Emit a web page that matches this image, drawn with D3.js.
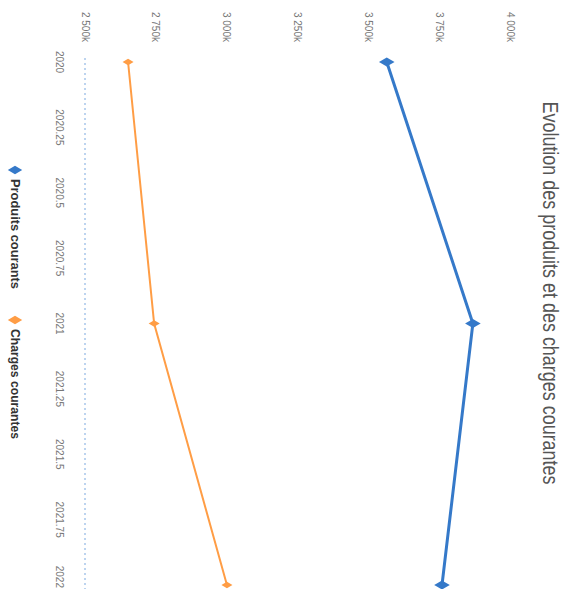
<!DOCTYPE html>
<html><head><meta charset="utf-8">
<script src="https://cdn.jsdelivr.net/npm/d3@7"></script>
<style>html,body{margin:0;padding:0;background:#fff;}svg{display:block;}</style>
</head><body>
<script>
const years = [2020, 2021, 2022];
const produits = [3565, 3869, 3760];
const charges = [2652, 2744, 3001];
const xTicks = [2020, 2020.25, 2020.5, 2020.75, 2021, 2021.25, 2021.5, 2021.75, 2022];
const yTicks = [2500, 2750, 3000, 3250, 3500, 3750, 4000];
const seriesNames = ["Produits courants", "Charges courantes"];
const colors = ["#3579c9", "#ff9d45"];
const title = "Evolution des produits et des charges courantes";

const W = 570, H = 589;
const svg = d3.select("body").append("svg").attr("width", W).attr("height", H);
// chart drawn in its own orientation (589 wide x 570 tall), then turned a quarter clockwise
const g = svg.append("g").attr("transform", `translate(${W},0) rotate(90)`);
const font = "Liberation Sans, Arial, sans-serif";

const x = d3.scaleLinear().domain([2020, 2022]).range([62, 585]);
const y = d3.scaleLinear().domain([2500, 4000]).range([485, 60]);

// x axis line (dashed)
g.append("line").attr("x1", 58).attr("x2", 589).attr("y1", y(2500)).attr("y2", y(2500))
  .attr("stroke", "#a8c6ea").attr("stroke-width", 1.5).attr("stroke-dasharray", "2,3");

// x tick labels
const last = xTicks[xTicks.length - 1];
g.selectAll(".xt").data(xTicks).enter().append("text")
  .attr("x", d => d === last ? 588 : x(d)).attr("y", 514)
  .attr("text-anchor", d => d === last ? "end" : "middle")
  .attr("font-family", font).attr("font-size", 10).attr("fill", "#777")
  .text(d => String(d));

// y tick labels
const fmt = d => d3.format(",")(d).replace(",", " ") + "k";
g.selectAll(".yt").data(yTicks).enter().append("text")
  .attr("x", 42).attr("y", d => y(d) + 3.5).attr("text-anchor", "end")
  .attr("font-family", font).attr("font-size", 10).attr("fill", "#777")
  .text(fmt);

// series
const series = [produits, charges];
const widths = [3, 2];
series.forEach((vals, i) => {
  const pts = vals.map((v, j) => [years[j], v]);
  g.append("path").datum(pts)
    .attr("d", d3.line().x(d => x(d[0])).y(d => y(d[1])))
    .attr("fill", "none").attr("stroke", colors[i]).attr("stroke-width", widths[i]);
  g.selectAll(".m" + i).data(pts).enter().append("path")
    .attr("d", d3.symbol(d3.symbolDiamond, i === 0 ? 70 : 35))
    .attr("transform", d => `translate(${x(d[0])},${y(d[1])})`)
    .attr("fill", colors[i]);
});

// title
g.append("text").attr("x", 293).attr("y", 27).attr("text-anchor", "middle")
  .attr("font-family", font).attr("font-size", 22).attr("fill", "#555")
  .attr("textLength", 383).attr("lengthAdjust", "spacingAndGlyphs")
  .text(title);

// legend
const legX = [170, 320];
seriesNames.forEach((n, i) => {
  g.append("path").attr("d", d3.symbol(d3.symbolDiamond, 60))
    .attr("transform", `translate(${legX[i]},555)`).attr("fill", colors[i]);
  g.append("text").attr("x", legX[i] + 9).attr("y", 559.5)
    .attr("font-family", font).attr("font-size", 12).attr("font-weight", "bold")
    .attr("textLength", 110).attr("lengthAdjust", "spacingAndGlyphs")
    .attr("fill", "#333").text(n);
});
</script>
</body></html>
